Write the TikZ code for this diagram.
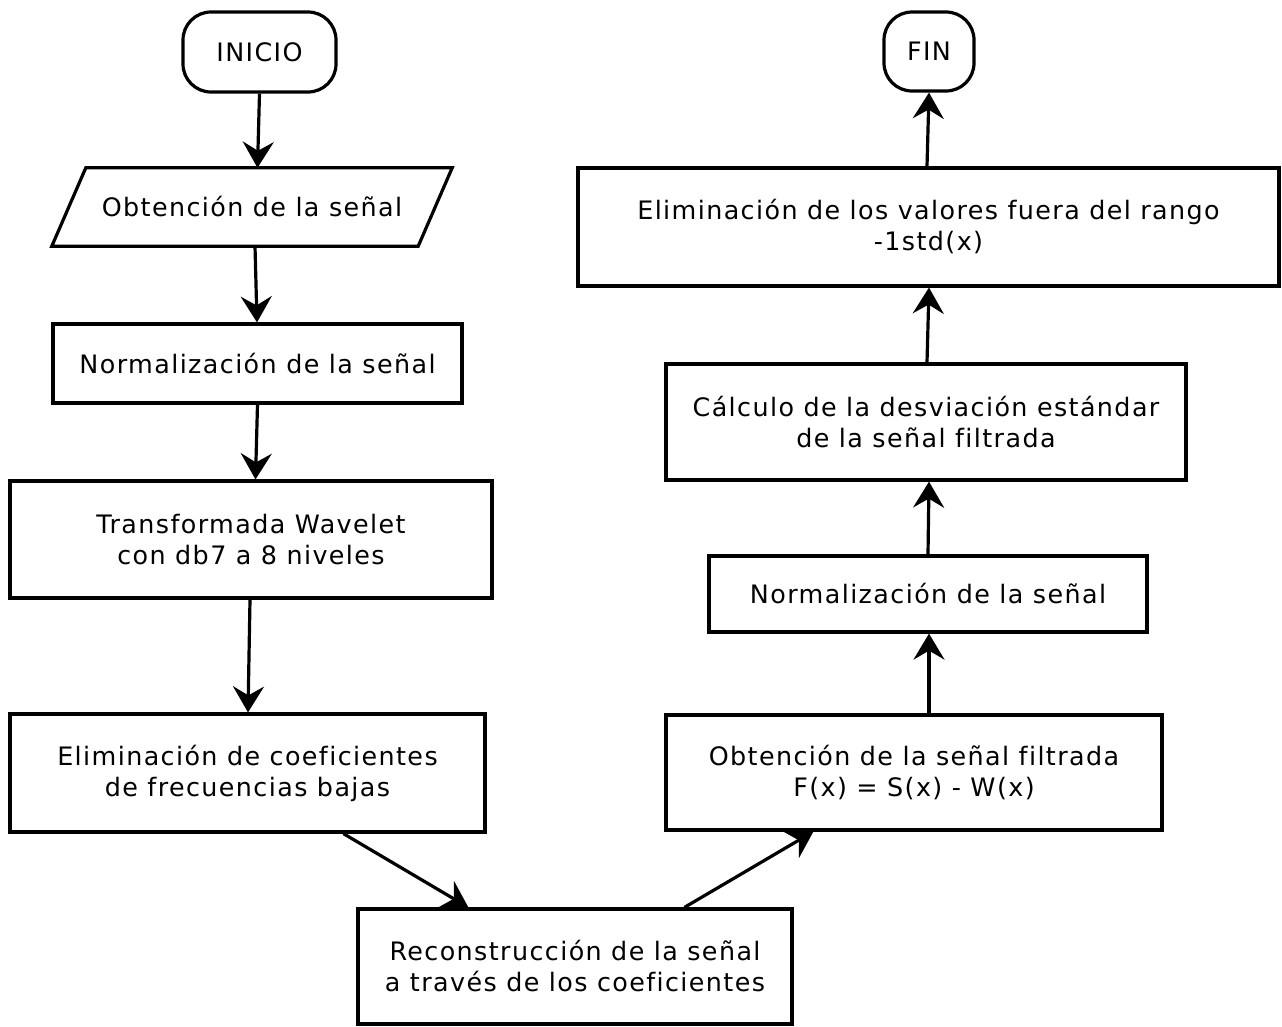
\documentclass[tikz,border=0pt]{standalone}
\usepackage{fontspec}
\setmainfont[LetterSpace=5.5,Ligatures=NoCommon]{DejaVu Sans}
\usetikzlibrary{arrows.meta}
\begin{document}
\begin{tikzpicture}[x=1pt,y=-1pt,
  every node/.style={font=\fontsize{25.4}{31}\selectfont, align=center, inner sep=0pt},
  box/.style={draw, line width=3.2pt, minimum width=#1},
  terminal/.style={draw, line width=3.2pt, rounded corners=28pt},
  flow/.style={line width=3.2pt, -{Stealth[length=26pt,width=31pt,inset=9pt]}}
]
\useasboundingbox (0,0) rectangle (1282,1026);

% left column
\node[terminal, minimum width=153pt, minimum height=80pt] (ini) at (259.5,52) {INICIO};
\node[minimum width=366pt, minimum height=78pt] (obt) at (252,207) {Obtenci\'on de la se\~nal};
\draw[line width=3.2pt, line join=miter]
  ([xshift=17pt]obt.north west) -- ([xshift=17pt]obt.north east)
  -- ([xshift=-17pt]obt.south east) -- ([xshift=-17pt]obt.south west) -- cycle;
\node[box=409pt, minimum height=79pt] (norm) at (257.5,363.5) {Normalizaci\'on de la se\~nal};
\node[box=482pt, minimum height=117pt] (wav) at (251,539.5) {Transformada Wavelet\\con db7 a 8 niveles};
\node[box=475pt, minimum height=118pt] (elim) at (247.5,773) {Eliminaci\'on de coeficientes\\de frecuencias bajas};

% bottom
\node[box=434pt, minimum height=115pt] (rec) at (575,966.5) {Reconstrucci\'on de la se\~nal\\a trav\'es de los coeficientes};

% right column
\node[box=496pt, minimum height=115pt] (filt) at (914,772.5) {Obtenci\'on de la se\~nal filtrada\\F(x) = S(x) - W(x)};
\node[box=438pt, minimum height=76pt] (norm2) at (928,594) {Normalizaci\'on de la se\~nal};
\node[box=520pt, minimum height=116pt] (calc) at (926,422) {C\'alculo de la desviaci\'on est\'andar\\de la se\~nal filtrada};
\node[box=701pt, minimum height=118pt] (elimr) at (928.5,227) {Eliminaci\'on de los valores fuera del rango\\-1std(x)};
\node[terminal, minimum width=90pt, minimum height=79pt] (fin) at (929,51.5) {FIN};

% connectors
\draw[flow] (ini.south) -- ([xshift=-2pt]ini.south |- obt.north);
\draw[flow] ([xshift=3pt]obt.south) -- ([xshift=5pt]obt.south |- norm.north);
\draw[flow] (norm.south) -- ([xshift=-2pt]norm.south |- wav.north);
\draw[flow] ([xshift=-1pt]wav.south) -- ([xshift=-3pt]wav.south |- elim.north);
\draw[flow] ([xshift=335pt]elim.south west) -- ([xshift=112pt]rec.north west);
\draw[flow] ([xshift=328pt]rec.north west) -- ([xshift=149pt]filt.south west);
\draw[flow] ([xshift=15pt]filt.north) -- ([xshift=15pt]filt.north |- norm2.south);
\draw[flow] (norm2.north) -- ([xshift=1pt]norm2.north |- calc.south);
\draw[flow] ([xshift=1pt]calc.north) -- ([xshift=3pt]calc.north |- elimr.south);
\draw[flow] ([xshift=-1.5pt]elimr.north) -- ([xshift=0.5pt]elimr.north |- fin.south);
\end{tikzpicture}
\end{document}
